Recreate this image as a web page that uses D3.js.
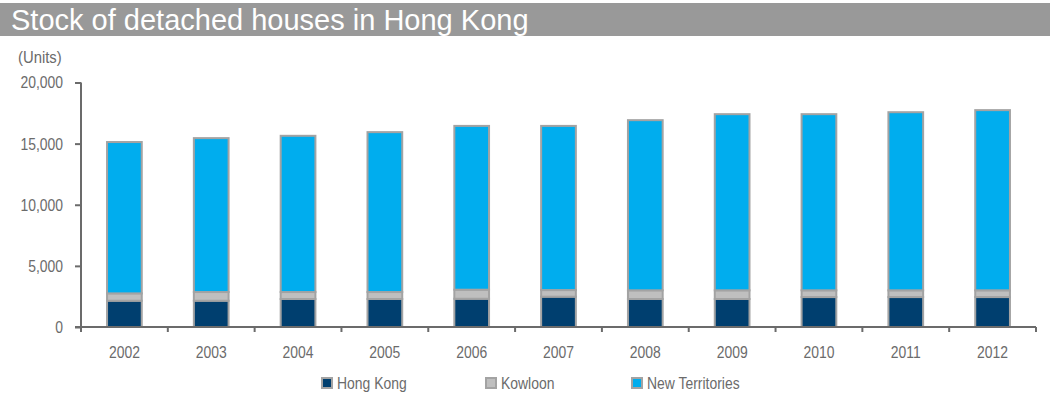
<!DOCTYPE html>
<html>
<head>
<meta charset="utf-8">
<script src="https://cdn.jsdelivr.net/npm/d3@7"></script>
<style>
  html, body { margin: 0; padding: 0; background: #fff; }
  svg { display: block; }
</style>
</head>
<body>
<svg id="chart" width="1050" height="396"></svg>
<script>
// Stock of detached houses by district, 2002–2012 (units)
const years = ["2002", "2003", "2004", "2005", "2006", "2007", "2008", "2009", "2010", "2011", "2012"];
const hongKong = [2150, 2150, 2290, 2290, 2310, 2480, 2290, 2290, 2450, 2450, 2450];
const kowloon = [600, 710, 570, 570, 740, 540, 710, 710, 550, 550, 550];
const newTerritories = [12380, 12590, 12780, 13080, 13400, 13430, 13920, 14410, 14410, 14570, 14740];
const seriesNames = ["Hong Kong", "Kowloon", "New Territories"];
const yTicks = [0, 5000, 10000, 15000, 20000];

const colors = ["#003f6f", "#bfbfbf", "#00adee"];
const edge = "#a3a3a3";
const axisColor = "#6b6b6b";
const textColor = "#6b6b6b";
const FONT = "'Liberation Sans', Arial, sans-serif";
const SQUEEZE = 0.82;   // condensed look for axis and legend text

const svg = d3.select("#chart");

// condensed text: horizontally squeezed around its anchor point
function narrowText(parent, x, y, str, opts = {}) {
  const g = parent.append("g").attr("transform", `translate(${x},${y}) scale(${opts.scale || SQUEEZE},1)`);
  return g.append("text")
    .attr("font-family", FONT)
    .attr("font-size", opts.size || 17)
    .attr("fill", textColor)
    .attr("text-anchor", opts.anchor || "start")
    .text(str);
}

// Title banner
svg.append("rect").attr("x", 0).attr("y", 3).attr("width", 1050).attr("height", 33).attr("fill", "#999999");
svg.append("text").attr("x", 11).attr("y", 30)
  .attr("font-family", FONT)
  .attr("font-size", 29).attr("fill", "#ffffff")
  .text("Stock of detached houses in Hong Kong");

const x = d3.scaleBand().domain(years).range([81, 1036]).paddingInner(0.6).paddingOuter(0.3);
const y = d3.scaleLinear().domain([0, 20000]).range([327, 82.5]);

// Stack the three districts
const rows = years.map((yr, i) => ({ year: yr, "Hong Kong": hongKong[i], "Kowloon": kowloon[i], "New Territories": newTerritories[i] }));
const stacked = d3.stack().keys(seriesNames)(rows);

const bars = svg.append("g");
stacked.forEach((layer, k) => {
  bars.selectAll(null).data(layer).enter().append("rect")
    .attr("x", d => x(d.data.year))
    .attr("width", x.bandwidth())
    .attr("y", d => y(d[1]))
    .attr("height", d => y(d[0]) - y(d[1]))
    .attr("fill", colors[k])
    .attr("stroke", edge)
    .attr("stroke-width", 2);
});

// Y axis
const yAxis = svg.append("g").attr("transform", "translate(81,0)")
  .call(d3.axisLeft(y).tickValues(yTicks).tickSize(6).tickPadding(12).tickFormat(d3.format(",")));
yAxis.select(".domain").attr("stroke", axisColor).attr("stroke-width", 2).attr("d", "M0,82.5V327");
yAxis.selectAll(".tick line").attr("stroke", axisColor).attr("stroke-width", 2);
yAxis.selectAll(".tick text")
  .attr("font-family", FONT).attr("font-size", 17).attr("fill", textColor)
  .attr("x", -18 / SQUEEZE)
  .attr("transform", `scale(${SQUEEZE},1)`);

// X axis: ticks sit on the category boundaries
const xAxis = svg.append("g").attr("transform", "translate(0,327)");
xAxis.append("line").attr("x1", 75).attr("x2", 1036).attr("y1", 0).attr("y2", 0)
  .attr("stroke", axisColor).attr("stroke-width", 2);
const bounds = d3.range(years.length + 1).map(i => 81 + i * (1036 - 81) / years.length);
xAxis.selectAll(".bt").data(bounds).enter().append("line")
  .attr("x1", d => d).attr("x2", d => d).attr("y1", 0).attr("y2", 5)
  .attr("stroke", axisColor).attr("stroke-width", 2);
years.forEach(yr => {
  narrowText(xAxis, x(yr) + x.bandwidth() / 2, 31, yr, { anchor: "middle" });
});

// Units label
narrowText(svg, 18, 63, "(Units)", { size: 16.5, scale: 0.9 });

// Legend
const legendX = [321, 485, 631];
const legend = svg.append("g");
seriesNames.forEach((name, i) => {
  legend.append("rect").attr("x", legendX[i] + 1).attr("y", 378).attr("width", 10).attr("height", 10)
    .attr("fill", colors[i]).attr("stroke", edge).attr("stroke-width", 2);
  narrowText(legend, legendX[i] + 16, 389, name);
});
</script>
</body>
</html>
